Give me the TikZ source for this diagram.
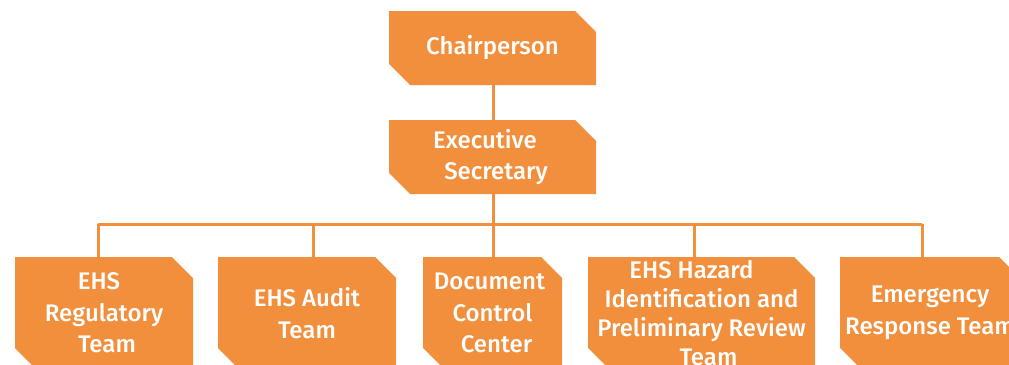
\documentclass[tikz,border=0pt]{standalone}
\usepackage{fontspec}
\setmainfont{Fira Sans}[UprightFont=* Medium]
\definecolor{boxorange}{HTML}{F28F3C}
\tikzset{
  chbox/.style={minimum width=#1, inner sep=0pt, text=white, align=center,
    font=\fontsize{24}{31.5}\selectfont,
    path picture={\fill[boxorange]
      (path picture bounding box.north west)
      -- ([xshift=-21pt]path picture bounding box.north east)
      -- ([yshift=-21pt]path picture bounding box.north east)
      -- (path picture bounding box.south east)
      -- ([xshift=21pt]path picture bounding box.south west)
      -- ([yshift=21pt]path picture bounding box.south west) -- cycle;}},
  topbox/.style={chbox=207pt, minimum height=74pt},
  lowbox/.style={chbox=#1, minimum height=112pt},
  conn/.style={draw=boxorange, line width=3pt}
}
\begin{document}
\begin{tikzpicture}[x=1pt,y=-1pt]
\useasboundingbox (0,0) rectangle (1009,364);
\clip (0,0) rectangle (1009,364);
\node[topbox] (chair) at (492.5,48) {Chairperson};
\node[topbox] (exec) at (492.5,157) {Executive\hspace*{15pt}\\\hspace*{7pt}Secretary};
\node[lowbox=178pt] (b1) at (104,313) {EHS\hspace*{10pt}\\Regulatory\\\hspace*{6pt}Team};
\node[lowbox=178pt] (b2) at (307,313) {EHS Audit\\Team};
\node[lowbox=139pt] (b3) at (492.5,313) {Document\hspace*{6pt}\\Control\\\hspace*{8pt}Center};
\node[lowbox=227pt, font=\fontsize{24}{29}\selectfont] (b4) at (701.5,313) {EHS Hazard\hspace*{20pt}\\Identification and\\Preliminary Review\\\hspace*{14pt}Team};
\node[lowbox=180pt] (b5) at (930,313) {Emergency\\Response Team};
\coordinate (bus) at (493,224);
\coordinate (t1) at (98,224);
\coordinate (t2) at (313,224);
\coordinate (t3) at (493,224);
\coordinate (t4) at (694,224);
\coordinate (t5) at (922,224);
\draw[conn] (chair.south -| bus) -- (exec.north -| bus);
\draw[conn] (exec.south -| bus) -- (bus);
\draw[conn] (t1) -- (t5);
\draw[conn] (t1) -- (t1 |- b1.north);
\draw[conn] (t2) -- (t2 |- b2.north);
\draw[conn] (t3) -- (t3 |- b3.north);
\draw[conn] (t4) -- (t4 |- b4.north);
\draw[conn] (t5) -- (t5 |- b5.north);
\end{tikzpicture}
\end{document}
